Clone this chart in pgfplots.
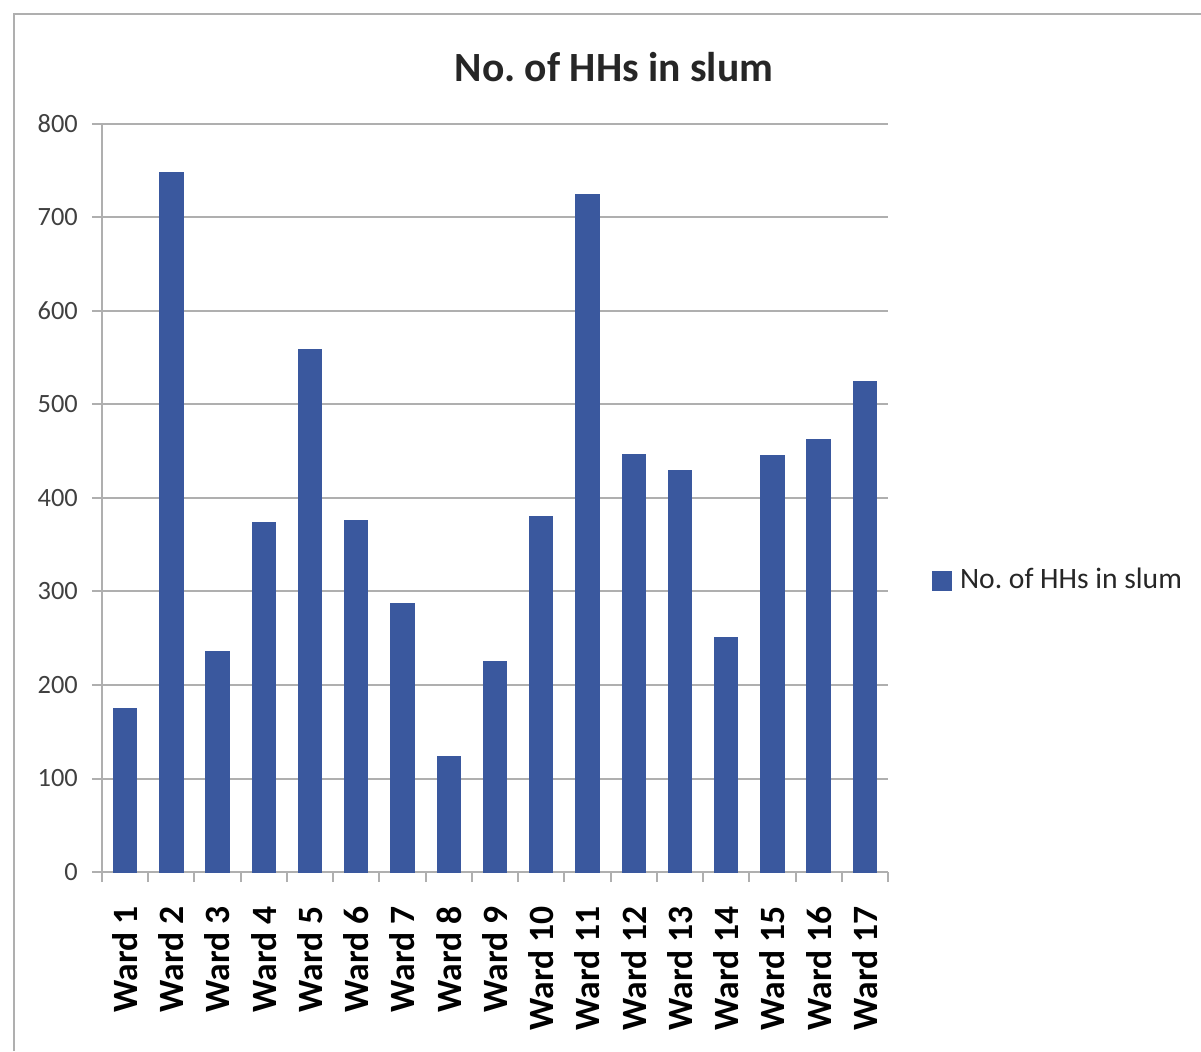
\documentclass[border=0pt]{standalone}
\usepackage{pgfplots}
\pgfplotsset{compat=1.18}
\usepackage{fontspec}
\setmainfont{Carlito}
\frenchspacing
\definecolor{barblue}{RGB}{58,88,158}
\definecolor{gridgray}{RGB}{175,175,175}
\begin{document}
\begin{tikzpicture}[x=0.25pt,y=0.25pt]
\path[use as bounding box] (0,0) rectangle (1201,1051);
\draw[gridgray, line width=0.5pt] (14,0) -- (14,1037) -- (1201,1037);
\node[font=\fontsize{10.4}{12}\selectfont\bfseries, text=black!85] at (614,984) {No.\ of HHs in slum};
\begin{axis}[
  at={(25.5pt,44.75pt)}, anchor=south west,
  scale only axis, width=196.5pt, height=187pt,
  ybar, bar width=5.7pt,
  xmin=0.5, xmax=17.5, ymin=0, ymax=800,
  axis x line*=bottom, axis y line*=left,
  axis line style={gridgray, line width=0.5pt},
  xtick={1,...,17},
  xticklabels={Ward 1,Ward 2,Ward 3,Ward 4,Ward 5,Ward 6,Ward 7,Ward 8,Ward 9,Ward 10,Ward 11,Ward 12,Ward 13,Ward 14,Ward 15,Ward 16,Ward 17},
  major x tick style={draw=none},
  minor xtick={0.5,1.5,...,17.5},
  minor x tick style={gridgray, line width=0.5pt},
  minor tick length=2.5pt,
  xticklabel style={rotate=90, anchor=east, font=\fontsize{8.9}{10}\selectfont\bfseries, xshift=-2.5pt},
  ytick={0,100,...,800},
  y tick style={gridgray, line width=0.5pt},
  major tick length=2.5pt,
  tick align=outside,
  ymajorgrids, grid style={gridgray, line width=0.5pt},
  yticklabel style={font=\fontsize{6.6}{8}\selectfont, text=black!75},
  /pgf/number format/assume math mode=true,
  legend style={at={(1.04,0.389)}, anchor=west, draw=none, fill=none,
    font=\fontsize{7.4}{9}\selectfont, text=black!85},
  legend image code/.code={\fill[barblue] (0cm,-0.08cm) rectangle (0.16cm,0.08cm);},
]
\addplot[fill=barblue, draw=barblue] coordinates {
(1,175) (2,748) (3,235) (4,374) (5,558) (6,376) (7,287) (8,123) (9,225)
(10,380) (11,724) (12,446) (13,429) (14,251) (15,445) (16,462) (17,524)};
\addlegendentry{No.\ of HHs in slum}
\end{axis}
\end{tikzpicture}
\end{document}
